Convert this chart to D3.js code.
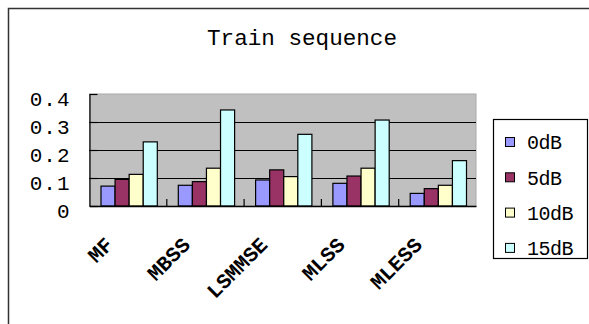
<!DOCTYPE html>
<html>
<head>
<meta charset="utf-8">
<script src="https://cdn.jsdelivr.net/npm/d3@7"></script>
<style>
  html, body { margin: 0; padding: 0; background: #fff; }
  svg { display: block; }
  text { font-family: "Liberation Mono", "DejaVu Sans Mono", monospace; fill: #000; }
</style>
</head>
<body>
<svg id="chart" width="589" height="324"></svg>
<script>
// Chart data
const categories = ["MF", "MBSS", "LSMMSE", "MLSS", "MLESS"];
const seriesNames = ["0dB", "5dB", "10dB", "15dB"];
const values0dB  = [0.071, 0.074, 0.093, 0.081, 0.045];
const values5dB  = [0.095, 0.087, 0.129, 0.107, 0.062];
const values10dB = [0.113, 0.135, 0.105, 0.135, 0.074];
const values15dB = [0.229, 0.343, 0.256, 0.307, 0.162];
const yTicks = [0, 0.1, 0.2, 0.3, 0.4];
const title = "Train sequence";

const seriesValues = [values0dB, values5dB, values10dB, values15dB];
const colors = ["#9999FF", "#993366", "#FFFFCC", "#CCFFFF"];

const svg = d3.select("#chart");

// Outer chart frame
svg.append("rect")
  .attr("x", 8.5).attr("y", 8.5)
  .attr("width", 600).attr("height", 340)
  .attr("fill", "#fff").attr("stroke", "#333").attr("stroke-width", 1.5);

// Plot area
const plot = { left: 89.5, top: 94, right: 476, bottom: 206 };
const x = d3.scaleBand().domain(categories).range([plot.left, plot.right]).padding(0);
const xInner = d3.scaleBand().domain(seriesNames)
  .range([11.5, x.bandwidth() - 9.5]).padding(0);
const y = d3.scaleLinear().domain([0, 0.4]).range([plot.bottom, plot.top]);

svg.append("rect")
  .attr("x", plot.left).attr("y", plot.top)
  .attr("width", plot.right - plot.left).attr("height", plot.bottom - plot.top)
  .attr("fill", "#C0C0C0").attr("stroke", "#A8A8A8").attr("stroke-width", 1);

// Gridlines
const grid = svg.append("g")
  .attr("transform", `translate(${plot.left},0)`)
  .call(d3.axisLeft(y).tickValues(yTicks.slice(1, 4)).tickSize(-(plot.right - plot.left)).tickFormat(""));
grid.select(".domain").remove();
grid.selectAll(".tick line").attr("stroke", "#000").attr("stroke-width", 1.2);

// Bars
const groups = svg.append("g").selectAll("g")
  .data(categories)
  .join("g")
  .attr("transform", d => `translate(${x(d)},0)`);

groups.selectAll("rect")
  .data((c, i) => seriesNames.map((s, k) => ({ s, v: seriesValues[k][i], k })))
  .join("rect")
  .attr("x", d => xInner(d.s))
  .attr("y", d => y(d.v))
  .attr("width", xInner.bandwidth())
  .attr("height", d => y(0) - y(d.v))
  .attr("fill", d => colors[d.k])
  .attr("stroke", "#000")
  .attr("stroke-width", 1.2);

// Y axis
const yAxis = svg.append("g")
  .attr("transform", `translate(${plot.left},0)`)
  .call(d3.axisLeft(y).tickValues(yTicks)
    .tickSizeInner(-8).tickSizeOuter(0).tickPadding(19)
    .tickFormat(d => d === 0 ? "0" : d.toFixed(1)));
yAxis.select(".domain").attr("stroke", "#000").attr("stroke-width", 1.2);
yAxis.selectAll(".tick line").attr("stroke", "#000").attr("stroke-width", 1.2);
yAxis.selectAll(".tick text")
  .attr("font-size", 21)
  .attr("letter-spacing", 1)
  .attr("dy", "0.55em")
  .style("font-family", "'Liberation Mono', monospace");

// X axis
const xAxis = svg.append("g")
  .attr("transform", `translate(0,${plot.bottom})`)
  .call(d3.axisBottom(x).tickSize(0).tickFormat(""));
xAxis.select(".domain").attr("stroke", "#000").attr("stroke-width", 1.4);

// Category separators rising from the axis
svg.append("g").selectAll("line")
  .data(categories.slice(1))
  .join("line")
  .attr("x1", d => x(d)).attr("x2", d => x(d))
  .attr("y1", plot.bottom).attr("y2", plot.bottom - 7)
  .attr("stroke", "#000").attr("stroke-width", 1.2);

// Rotated category labels
svg.append("g").selectAll("text")
  .data(categories)
  .join("text")
  .attr("transform", d => `translate(${x(d) + x.bandwidth() / 2 - 14},246) rotate(-45)`)
  .attr("text-anchor", "end")
  .attr("font-size", 21)
  .attr("font-weight", "bold")
  .text(d => d);

// Title
svg.append("text")
  .attr("x", 302).attr("y", 45)
  .attr("text-anchor", "middle")
  .attr("font-size", 22)
  .attr("textLength", 190)
  .attr("lengthAdjust", "spacingAndGlyphs")
  .text(title);

// Legend
const legend = svg.append("g");
legend.append("rect")
  .attr("x", 493.5).attr("y", 119.5)
  .attr("width", 94).attr("height", 139)
  .attr("fill", "#fff").attr("stroke", "#000").attr("stroke-width", 1.2);
const items = legend.selectAll("g.item")
  .data(seriesNames)
  .join("g")
  .attr("class", "item")
  .attr("transform", (d, i) => `translate(505,${142 + i * 35.3})`);
items.append("rect")
  .attr("x", 0.5).attr("y", -4.5)
  .attr("width", 9).attr("height", 9)
  .attr("fill", (d, i) => colors[i])
  .attr("stroke", "#000").attr("stroke-width", 1);
items.append("text")
  .attr("x", 22).attr("y", 0)
  .attr("dy", "0.36em")
  .attr("font-size", 20)
  .attr("letter-spacing", -0.5)
  .text(d => d);
</script>
</body>
</html>
